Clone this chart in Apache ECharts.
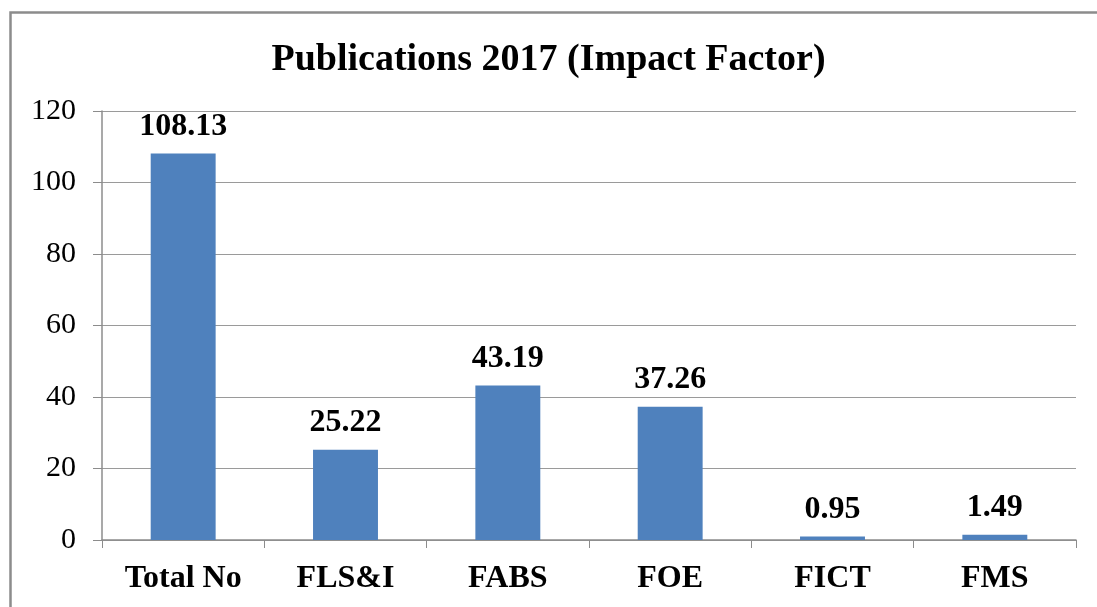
<!DOCTYPE html>
<html>
<head>
<meta charset="utf-8">
<script src="https://cdn.jsdelivr.net/npm/echarts@6/dist/echarts.min.js"></script>
<style>
html,body{margin:0;padding:0;background:#fff;}
#c{width:1097px;height:607px;}
</style>
</head>
<body>
<div id="c"></div>
<script>
const categories = ["Total No", "FLS&I", "FABS", "FOE", "FICT", "FMS"];
const values = [108.13, 25.22, 43.19, 37.26, 0.95, 1.49];
const valueLabels = ["108.13", "25.22", "43.19", "37.26", "0.95", "1.49"];
const titleText = "Publications 2017 (Impact Factor)";

const chart = echarts.init(document.getElementById('c'));
const serif = '"Liberation Serif", "Times New Roman", serif';
chart.setOption({
  backgroundColor: '#ffffff',
  animation: false,
  graphic: [{
    type: 'rect', left: 8, top: 10,
    shape: { width: 1300, height: 800 },
    style: { fill: 'none', stroke: '#8c8c8c', lineWidth: 2.5 },
    silent: true, z: -1
  }],
  title: {
    text: titleText, left: 'center', top: 36,
    textStyle: { fontFamily: serif, fontWeight: 'bold', fontSize: 38, color: '#000' }
  },
  grid: { left: 102, right: 21, top: 111, bottom: 67 },
  xAxis: {
    type: 'category', data: categories,
    axisLine: { lineStyle: { color: '#8c8c8c', width: 1.5 } },
    axisTick: { show: true, length: 8, lineStyle: { color: '#8c8c8c' } },
    axisLabel: { fontFamily: serif, fontWeight: 'bold', fontSize: 32, color: '#000', margin: 23 }
  },
  yAxis: {
    type: 'value', min: 0, max: 120, interval: 20,
    axisLine: { show: true, lineStyle: { color: '#8c8c8c', width: 1.5 } },
    axisTick: { show: true, length: 9, lineStyle: { color: '#8c8c8c' } },
    axisLabel: { fontFamily: serif, fontSize: 30, color: '#000', margin: 26 },
    splitLine: { lineStyle: { color: '#9a9a9a', width: 1.2 } }
  },
  series: [{
    type: 'bar', data: values, barWidth: '40%',
    itemStyle: { color: '#4F81BD' },
    label: {
      show: true, position: 'top', distance: 11,
      fontFamily: serif, fontWeight: 'bold', fontSize: 32, color: '#000',
      formatter: p => valueLabels[p.dataIndex]
    }
  }]
});
</script>
</body>
</html>
